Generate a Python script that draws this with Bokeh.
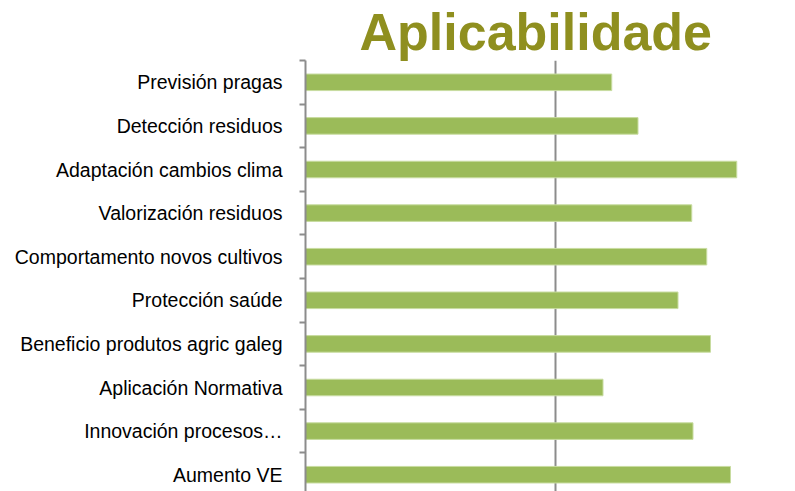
from bokeh.plotting import figure
from bokeh.models import Range1d, FixedTicker, ColumnDataSource
from bokeh.embed import file_html
from bokeh.resources import INLINE

categories = [
    "Previsión pragas",
    "Detección residuos",
    "Adaptación cambios clima",
    "Valorización residuos",
    "Comportamento novos cultivos",
    "Protección saúde",
    "Beneficio produtos agric galeg",
    "Aplicación Normativa",
    "Innovación procesos…",
    "Aumento VE",
]
values = [2.45, 2.66, 3.45, 3.09, 3.21, 2.98, 3.24, 2.38, 3.10, 3.40]

n = len(categories)
ypos = [n - 1 - i for i in range(n)]

src = ColumnDataSource(dict(y=ypos, v=values, name=categories))

p = figure(width=795, height=491, output_backend="svg", toolbar_location=None,
           x_range=Range1d(0, 3.92), y_range=Range1d(-0.385, n - 0.5),
           min_border_left=305, min_border_right=0, min_border_top=60,
           min_border_bottom=0, outline_line_color=None)

p.title.text = "Aplicabilidade"
p.title.align = "left"
p.title.offset = 54
p.title.standoff = 0
p.title.text_font = "Liberation Sans"
p.title.text_font_style = "bold"
p.title.text_font_size = "52px"
p.title.text_color = "#8F8F1F"

p.hbar(y="y", right="v", left=0, height=0.38, source=src,
       fill_color="#9BBB59", line_color="#C8DCA0", line_width=1)

p.xaxis.visible = False
p.xgrid.ticker = FixedTicker(ticks=[0, 2, 4])
p.xgrid.grid_line_color = "#8C8C8C"
p.xgrid.grid_line_width = 2
p.ygrid.grid_line_color = None

ya = p.yaxis[0]
ya.ticker = FixedTicker(ticks=ypos, minor_ticks=[k + 0.5 for k in range(-1, n)])
ya.major_label_overrides = {yy: c for yy, c in zip(ypos, categories)}
ya.axis_line_color = "#8C8C8C"
ya.axis_line_width = 2
ya.major_tick_line_color = None
ya.major_tick_out = 0
ya.major_tick_in = 0
ya.minor_tick_line_color = "#8C8C8C"
ya.minor_tick_line_width = 2
ya.minor_tick_out = 6
ya.minor_tick_in = 0
ya.major_label_standoff = 17
ya.major_label_text_font = "Liberation Sans"
ya.major_label_text_font_size = "19.5px"
ya.major_label_text_color = "#000000"

open("out.html", "w").write(file_html(p, INLINE))
